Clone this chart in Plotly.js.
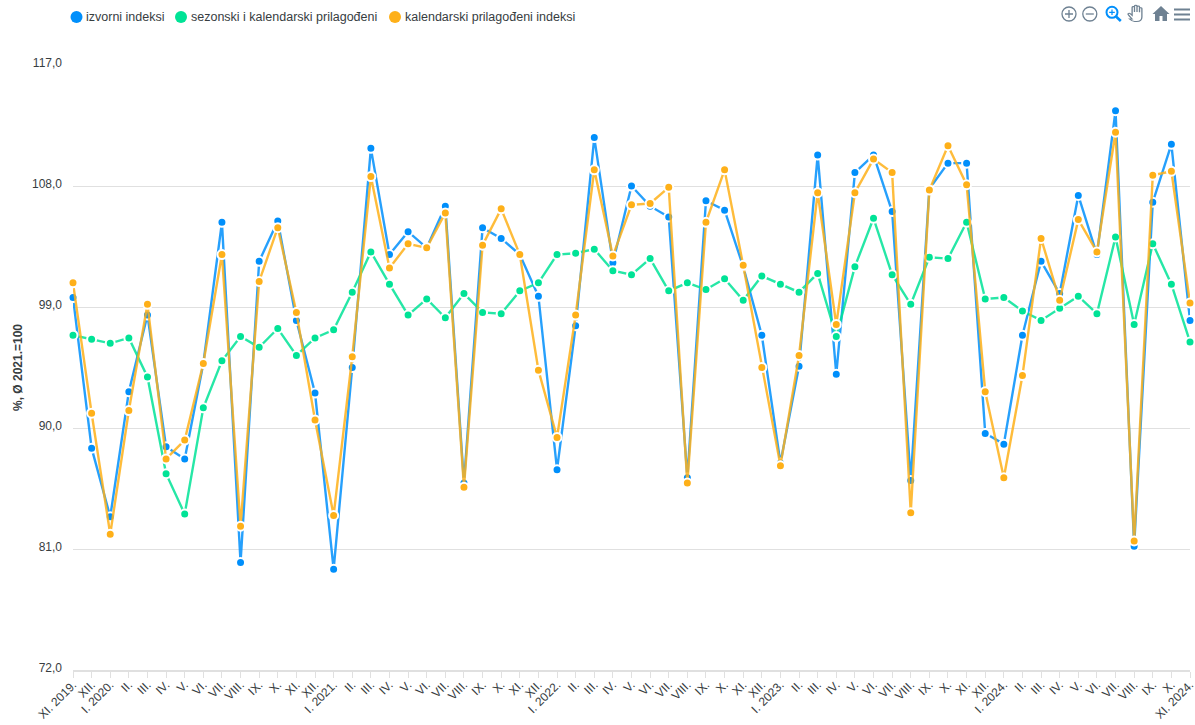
<!DOCTYPE html>
<html>
<head>
<meta charset="utf-8">
<script src="https://cdn.plot.ly/plotly-3.0.1.min.js"></script>
<style>
html,body{margin:0;padding:0;background:#fff;overflow:hidden}
#wrap{position:relative;width:1195px;height:725px}
#chart{position:absolute;left:0;top:0;width:1195px;height:725px}
#tools{position:absolute;left:0;top:0;width:1195px;height:30px;pointer-events:none}
</style>
</head>
<body>
<div id="wrap">
<div id="chart"></div>
<svg id="tools" viewBox="0 0 1195 30" fill="none" stroke="#6E8192">
  <circle cx="1069" cy="14" r="7" stroke-width="1.3"/><path d="M1069 10v8M1065 14h8" stroke-width="1.3"/>
  <circle cx="1089.800" cy="14" r="7" stroke-width="1.3"/><path d="M1085.800 14h8" stroke-width="1.3"/>
  <circle cx="1112" cy="12.300" r="5.500" stroke="#008FFB" stroke-width="2"/><path d="M1116 16.500l4.800 4.500" stroke="#008FFB" stroke-width="2.600"/><path d="M1112 9.500v5.600M1109.200 12.300h5.600" stroke="#008FFB" stroke-width="1.200"/>
  <g transform="translate(1127.500,0) scale(1.320,1) translate(-1128,0)"><path d="M1131.500 19c-1.500-2-2.500-3.500-3-4.500-.5-1 .8-1.800 1.600-.8l1.400 1.600V7.500c0-1.300 1.800-1.300 1.800 0V12V6.300c0-1.300 1.900-1.300 1.900 0V12V7c0-1.300 1.900-1.300 1.900 0v5.200V8.600c0-1.200 1.800-1.200 1.800 0V17c0 2.500-1.400 4.500-4 4.500h-1.500c-1.300 0-2.500-.9-3.900-2.500z" stroke="#6E8192" stroke-width="1"/></g>
  <path d="M1161 6l-8.500 8h2.500v7h4.500v-5h3v5h4.500v-7h2.500z" fill="#6E8192" stroke="none"/>
  <path d="M1174 9.500h16M1174 14.500h16M1174 19.500h16" stroke-width="2"/>
</svg>
</div>
<script>
var tickLabels = ["XI. 2019.","XII.","I. 2020.","II.","III.","IV.","V.","VI.","VII.","VIII.","IX.","X.","XI.","XII.","I. 2021.","II.","III.","IV.","V.","VI.","VII.","VIII.","IX.","X.","XI.","XII.","I. 2022.","II.","III.","IV.","V.","VI.","VII.","VIII.","IX.","X.","XI.","XII.","I. 2023.","II.","III.","IV.","V.","VI.","VII.","VIII.","IX.","X.","XI.","XII.","I. 2024.","II.","III.","IV.","V.","VI.","VII.","VIII.","IX.","X.","XI. 2024."];
var izvorni = [99.7,88.5,83.4,92.7,98.4,88.6,87.7,94.8,105.3,80.0,102.4,105.4,98.0,92.6,79.5,94.5,110.8,102.9,104.6,103.4,106.5,85.9,104.9,104.1,102.9,99.8,86.9,97.6,111.6,102.3,108.0,106.5,105.7,86.3,106.9,106.2,102.0,96.9,87.4,94.6,110.3,94.0,109.0,110.3,106.1,86.1,107.8,109.7,109.7,89.6,88.8,96.9,102.4,100.0,107.3,102.9,113.6,81.2,106.8,111.1,98.0];
var sezonski = [96.9,96.6,96.3,96.7,93.8,86.6,83.6,91.5,95.0,96.8,96.0,97.4,95.4,96.7,97.3,100.1,103.1,100.7,98.4,99.6,98.2,100.0,98.6,98.5,100.2,100.8,102.9,103.0,103.3,101.7,101.4,102.6,100.2,100.8,100.3,101.1,99.5,101.3,100.7,100.1,101.5,96.8,102.0,105.6,101.4,99.2,102.7,102.6,105.3,99.6,99.7,98.7,98.0,98.9,99.8,98.5,104.2,97.7,103.7,100.7,96.4];
var kalendarski = [100.8,91.1,82.1,91.3,99.2,87.7,89.1,94.8,102.9,82.7,100.9,104.9,98.6,90.6,83.5,95.3,108.7,101.9,103.7,103.4,106.0,85.6,103.6,106.3,102.9,94.3,89.3,98.4,109.2,102.8,106.6,106.7,107.9,85.9,105.3,109.2,102.1,94.5,87.2,95.4,107.5,97.7,107.5,110.0,109.0,83.7,107.7,111.0,108.1,92.7,86.3,93.9,104.1,99.5,105.5,103.1,112.0,81.6,108.8,109.1,99.3];
var seriesNames = ["izvorni indeksi","sezonski i kalendarski prilagođeni","kalendarski prilagođeni indeksi"];
var seriesColors = ["#008FFB","#00E396","#FEB019"];
var lineColors = ["rgba(0,143,251,0.85)","rgba(0,227,150,0.85)","rgba(254,176,25,0.85)"];
var seriesValues = [izvorni, sezonski, kalendarski];
var yTicks = [72,81,90,99,108,117];
var legendDotX = [76.5,181,395];
var legendTextX = [84,188.7,402.5];

var xs = tickLabels.map(function(_, i){ return i; });
var traces = seriesValues.map(function(vals, i){
  return {
    type:'scatter', mode:'lines+markers', name:seriesNames[i], x:xs, y:vals,
    cliponaxis:false, showlegend:false, hoverinfo:'x+y+name',
    line:{color:lineColors[i], width:2.4},
    marker:{color:seriesColors[i], size:9, line:{color:'#fff', width:2}}
  };
});
var W = 1195, H = 725, L = 73, R = 5, T = 64.5, B = 54.5;
var pw = W-L-R, ph = H-T-B;
var legendY = 1 + (T-16.5)/ph;
var shapes = legendDotX.map(function(px, i){
  return {type:'circle', xref:'paper', yref:'paper', xsizemode:'pixel', ysizemode:'pixel',
    xanchor:(px-L)/pw, yanchor:legendY, x0:-6, x1:6, y0:-6, y1:6,
    fillcolor:seriesColors[i], line:{width:0}};
});
var annotations = legendTextX.map(function(px, i){
  return {xref:'paper', yref:'paper', x:(px-L)/pw, y:legendY, xanchor:'left', yanchor:'middle',
    showarrow:false, text:seriesNames[i], font:{family:'Liberation Sans, Arial, sans-serif', size:12.5, color:'#373d3f'}};
});
var layout = {
  width:W, height:H, autosize:false, showlegend:false,
  margin:{l:L, r:R, t:T, b:B, pad:0},
  paper_bgcolor:'#fff', plot_bgcolor:'#fff', separators:',.',
  font:{family:'Liberation Sans, Arial, sans-serif', size:12, color:'#373d3f'},
  xaxis:{range:[0,60], tickmode:'array', tickvals:xs, ticktext:tickLabels, tickangle:-45,
    showgrid:false, zeroline:false, showline:true, linecolor:'#e0e0e0', linewidth:2,
    ticks:'outside', ticklen:6, tickwidth:1, tickcolor:'#e0e0e0',
    ticklabelstandoff:-5, ticklabeloverflow:'allow',
    tickfont:{size:12, color:'#373d3f'}},
  yaxis:{range:[72,117], tickmode:'array', tickvals:yTicks, tickformat:'.1f',
    showgrid:true, gridcolor:'#e0e0e0', gridwidth:1, zeroline:false, showline:false, ticks:'',
    ticklabelstandoff:10, ticklabelshift:-2,
    tickfont:{size:12, color:'#373d3f'},
    title:{text:'<b>%, Ø 2021.=100</b>', font:{size:12, color:'#373d3f'}, standoff:6}},
  shapes:shapes, annotations:annotations
};
Plotly.newPlot('chart', traces, layout, {displayModeBar:false, responsive:false});
</script>
</body>
</html>
